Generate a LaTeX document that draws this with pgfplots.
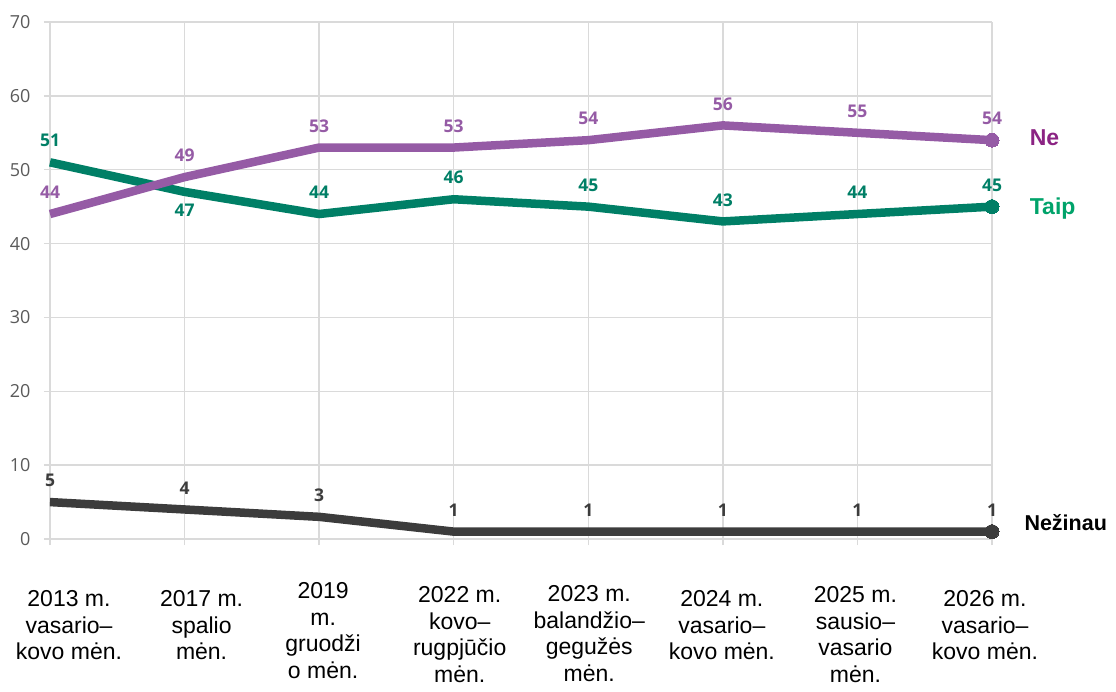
\documentclass[border=0pt]{standalone}
\usepackage{pgfplots}
\pgfplotsset{compat=1.18}
\usepackage{fontspec}
\setmainfont{Liberation Sans}
\newfontfamily\opensans{Open Sans}
\definecolor{gridc}{HTML}{DADADA}
\definecolor{tickc}{HTML}{5A5A5A}
\definecolor{purp}{HTML}{955BA5}
\definecolor{purplab}{HTML}{8B2383}
\definecolor{grn}{HTML}{007F66}
\definecolor{grnlab}{HTML}{00A36A}
\definecolor{dk}{HTML}{3C3C3C}
\begin{document}
\begin{tikzpicture}
\path[use as bounding box] (-50pt,-152pt) rectangle (1066pt,539pt);
\begin{axis}[
  at={(0,0)}, anchor=south west, scale only axis,
  width=942pt, height=517pt,
  xmin=0, xmax=7, ymin=0, ymax=70,
  clip=false,
  axis line style={draw=none},
  grid=major, grid style={draw=gridc, line width=1.3pt},
  tick pos=left, tick align=outside, major tick length=6pt,
  tick style={draw=gridc, line width=1.3pt},
  xtick={0,...,7}, ytick={0,10,...,70},
  xticklabels={{2013 m.\\vasario–\\kovo mėn.},{2017 m.\\spalio\\mėn.},{2019\\m.\\gruodži\\o mėn.},{2022 m.\\kovo–\\rugpjūčio\\mėn.},{2023 m.\\balandžio–\\gegužės\\mėn.},{2024 m.\\vasario–\\kovo mėn.},{2025 m.\\sausio–\\vasario\\mėn.},{2026 m.\\vasario–\\kovo mėn.}},
  xticklabel style={align=center, font=\fontsize{23}{26.5}\selectfont, text=black,
    xshift={{19,17,4,6,1,-1,-2,-7}[\ticknum]*1pt},
    yshift={{-42,-42,-34,-38,-37,-42,-38,-42}[\ticknum]*1pt}},
  yticklabel style={font=\opensans\fontsize{18}{20}\selectfont, text=tickc, xshift=-10pt},
  /pgf/number format/assume math mode=true,
  lab/.style={draw=none, mark=none, nodes near coords,
    every node near coord/.style={font=\opensans\bfseries\fontsize{17.5}{19}\selectfont, text=#1, inner sep=0pt, anchor=south, yshift=15pt}},
  labdown/.style={draw=none, mark=none, nodes near coords,
    every node near coord/.style={font=\opensans\bfseries\fontsize{17.5}{19}\selectfont, text=#1, inner sep=0pt, anchor=north, yshift=-12pt}},
]
% Taip
\addplot[grn, line width=8.5pt, line join=round, mark=*, mark indices={8}, mark size=7pt, mark options={line width=0pt}]
  coordinates {(0,51) (1,47) (2,44) (3,46) (4,45) (5,43) (6,44) (7,45)};
% Ne
\addplot[purp, line width=8.5pt, line join=round, mark=*, mark indices={8}, mark size=7pt, mark options={line width=0pt}]
  coordinates {(0,44) (1,49) (2,53) (3,53) (4,54) (5,56) (6,55) (7,54)};
% Nezinau
\addplot[dk, line width=8.5pt, line join=round, mark=*, mark indices={8}, mark size=7pt, mark options={line width=0pt}]
  coordinates {(0,5) (1,4) (2,3) (3,1) (4,1) (5,1) (6,1) (7,1)};
% labels
\addplot[lab=grn] coordinates {(0,51) (2,44) (3,46) (4,45) (5,43) (6,44) (7,45)};
\addplot[labdown=grn] coordinates {(1,47)};
\addplot[lab=purp] coordinates {(0,44) (1,49) (2,53) (3,53) (4,54) (5,56) (6,55) (7,54)};
\addplot[lab=dk] coordinates {(0,5) (1,4) (2,3) (3,1) (4,1) (5,1) (6,1) (7,1)};
\node[anchor=west, font=\bfseries\fontsize{23}{26}\selectfont, text=purplab, inner sep=0pt] at (axis cs:7.28,54.4) {Ne};
\node[anchor=west, font=\bfseries\fontsize{23}{26}\selectfont, text=grnlab, inner sep=0pt] at (axis cs:7.28,44.7) {Taip};
\node[anchor=west, font=\bfseries\fontsize{21.5}{24}\selectfont, text=black, inner sep=0pt] at (axis cs:7.24,2.2) {Nežinau};
\end{axis}
\end{tikzpicture}
\end{document}
